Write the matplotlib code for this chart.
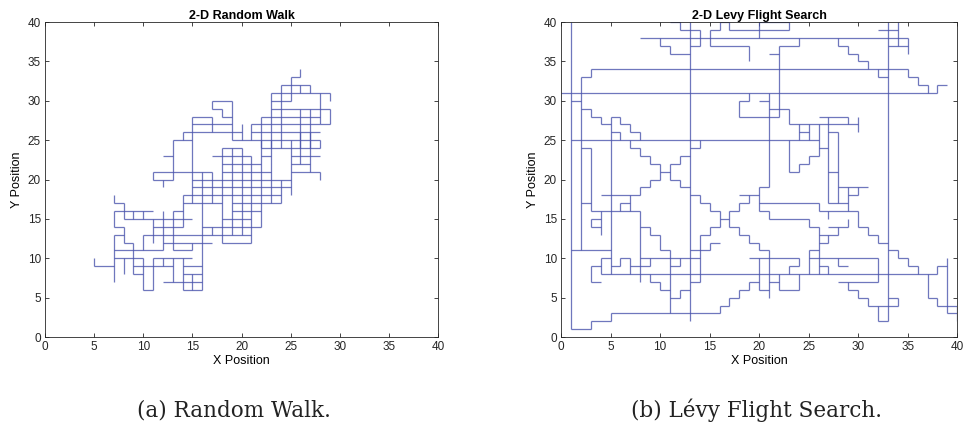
import matplotlib
matplotlib.use('Agg')
from matplotlib import pyplot as plt

plt.rcParams['font.family'] = ['Liberation Sans', 'DejaVu Sans']

# random walk, horizontal edges: (y, x_start, x_end)
rw_h = [
    (6, 10, 11), (6, 14, 16), (7, 12, 16), (8, 9, 10), (8, 14, 16),
    (9, 5, 7), (9, 9, 13), (9, 14, 16), (10, 7, 10), (10, 11, 15),
    (11, 7, 12), (11, 13, 15), (12, 8, 9), (12, 12, 17), (12, 18, 21),
    (13, 7, 8), (13, 10, 21), (14, 7, 8), (14, 11, 14), (14, 16, 22),
    (15, 8, 15), (15, 18, 21), (16, 7, 11), (16, 13, 14), (16, 19, 22),
    (17, 7, 8), (17, 14, 18), (17, 19, 24), (18, 14, 24), (19, 15, 25),
    (20, 11, 13), (20, 15, 25), (21, 11, 17), (21, 18, 23), (21, 25, 28),
    (22, 18, 22), (22, 25, 27), (23, 12, 13), (23, 17, 21), (23, 22, 23),
    (23, 25, 28), (24, 18, 20), (24, 22, 28), (25, 13, 15), (25, 19, 28),
    (26, 14, 20), (26, 21, 28), (27, 15, 19), (27, 21, 28), (27, 28, 29),
    (28, 15, 17), (28, 18, 19), (28, 22, 28), (29, 17, 18), (29, 23, 29),
    (30, 17, 19), (30, 23, 25), (31, 23, 29), (32, 24, 27), (33, 25, 26),
]
# random walk, vertical edges: (x, y_start, y_end)
rw_v = [
    (5, 9, 10), (7, 7, 13), (7, 14, 16), (7, 17, 18), (8, 8, 10),
    (8, 12, 14), (8, 15, 17), (9, 8, 12), (9, 15, 16), (10, 6, 10),
    (10, 11, 13), (10, 15, 16), (11, 6, 10), (11, 12, 15), (11, 20, 21),
    (12, 9, 10), (12, 11, 16), (12, 19, 20), (13, 7, 10), (13, 11, 16),
    (13, 20, 25), (14, 6, 10), (14, 14, 18), (14, 25, 26), (15, 6, 8),
    (15, 11, 12), (15, 17, 28), (16, 6, 21), (17, 13, 14), (17, 17, 21),
    (17, 26, 28), (17, 29, 30), (18, 12, 24), (18, 28, 29), (19, 13, 24),
    (19, 25, 30), (20, 13, 24), (20, 25, 27), (21, 12, 23), (21, 25, 27),
    (22, 14, 25), (22, 24, 28), (23, 17, 25), (23, 24, 31), (24, 17, 20),
    (24, 24, 32), (25, 18, 25), (25, 30, 33), (26, 22, 26), (26, 24, 29),
    (26, 31, 32), (26, 33, 34), (27, 21, 26), (27, 24, 29), (27, 31, 32),
    (28, 20, 21), (28, 24, 25), (28, 27, 31), (29, 27, 29), (29, 30, 31),
]

# levy flight, horizontal edges
lf_h = [
    (1, 1, 3), (2, 3, 5), (2, 32, 33), (3, 5, 16), (3, 39, 40),
    (4, 16, 17), (4, 31, 34), (4, 38, 40), (5, 17, 18), (5, 11, 12),
    (5, 30, 31), (5, 33, 34), (5, 37, 38), (6, 18, 19), (6, 10, 11),
    (6, 12, 13), (6, 22, 24), (6, 20, 21), (6, 29, 30), (7, 19, 20),
    (7, 3, 4), (7, 9, 10), (7, 13, 14), (7, 21, 22), (7, 28, 32),
    (8, 4, 38), (9, 3, 4), (9, 5, 6), (9, 7, 9), (9, 11, 12),
    (9, 23, 24), (9, 26, 27), (9, 28, 29), (9, 35, 36), (9, 38, 39),
    (10, 4, 5), (10, 6, 7), (10, 8, 14), (10, 19, 24), (10, 25, 32),
    (10, 34, 35), (11, 1, 5), (11, 10, 11), (11, 13, 15), (11, 20, 21),
    (11, 25, 26), (11, 33, 34), (12, 15, 16), (12, 19, 20), (12, 26, 27),
    (12, 32, 33), (13, 9, 10), (13, 14, 15), (13, 18, 19), (13, 26, 28),
    (13, 31, 32), (14, 3, 4), (14, 8, 9), (14, 15, 16), (14, 17, 18),
    (14, 25, 26), (14, 27, 29), (14, 30, 31), (15, 3, 4), (15, 16, 17),
    (15, 21, 25), (16, 3, 8), (16, 15, 16), (16, 17, 18), (16, 20, 21),
    (16, 26, 30), (17, 2, 3), (17, 6, 7), (17, 14, 15), (17, 18, 19),
    (17, 20, 26), (17, 27, 29), (18, 4, 8), (18, 13, 14), (18, 18, 20),
    (18, 29, 30), (19, 8, 9), (19, 12, 13), (19, 20, 21), (19, 28, 31),
    (20, 9, 10), (20, 11, 12), (21, 10, 11), (21, 23, 24), (21, 27, 28),
    (22, 9, 10), (22, 11, 12), (22, 24, 25), (23, 8, 9), (23, 12, 13),
    (23, 25, 26), (24, 2, 3), (24, 7, 8), (24, 13, 14), (24, 26, 27),
    (25, 1, 26), (26, 5, 6), (26, 7, 8), (26, 24, 25), (26, 27, 28),
    (27, 4, 5), (27, 6, 7), (27, 23, 30), (28, 3, 4), (28, 5, 6),
    (28, 18, 22), (28, 26, 29), (29, 2, 3), (29, 21, 23), (30, 1, 2),
    (30, 18, 19), (30, 20, 21), (31, 0, 38), (32, 36, 37), (32, 38, 39),
    (33, 2, 3), (33, 32, 33), (33, 35, 36), (34, 3, 35), (35, 30, 31),
    (36, 11, 13), (36, 21, 22), (36, 29, 30), (37, 10, 11), (37, 13, 14),
    (37, 15, 19), (37, 22, 24), (37, 28, 29), (37, 33, 35), (38, 8, 35),
    (39, 12, 14), (39, 15, 16), (39, 17, 23), (39, 32, 34), (40, 11, 12),
    (40, 16, 17), (40, 20, 23),
]
# levy flight, vertical edges
lf_v = [
    (1, 1, 40), (2, 11, 33), (3, 1, 2), (3, 7, 9), (3, 14, 15),
    (3, 16, 24), (3, 28, 29), (3, 33, 34), (4, 8, 10), (4, 13, 16),
    (4, 27, 28), (5, 2, 3), (5, 8, 28), (6, 9, 10), (6, 16, 17),
    (6, 25, 26), (6, 27, 28), (7, 8, 10), (7, 16, 18), (7, 24, 25),
    (7, 26, 27), (8, 7, 16), (8, 18, 19), (8, 23, 24), (8, 25, 26),
    (9, 7, 8), (9, 9, 10), (9, 13, 14), (9, 19, 20), (9, 22, 23),
    (10, 6, 7), (10, 11, 13), (10, 20, 22), (10, 37, 38), (11, 3, 11),
    (11, 20, 22), (11, 36, 37), (12, 5, 6), (12, 9, 10), (12, 19, 20),
    (12, 22, 23), (12, 39, 40), (13, 2, 40), (14, 7, 13), (14, 17, 18),
    (14, 24, 25), (14, 37, 39), (15, 11, 12), (15, 13, 14), (15, 16, 17),
    (15, 37, 39), (16, 3, 4), (16, 14, 16), (16, 39, 40), (17, 4, 5),
    (17, 14, 16), (17, 39, 40), (18, 5, 6), (18, 13, 14), (18, 16, 17),
    (18, 28, 30), (19, 6, 7), (19, 12, 13), (19, 17, 18), (19, 30, 31),
    (19, 35, 37), (20, 6, 10), (20, 11, 12), (20, 16, 19), (20, 38, 40),
    (21, 5, 11), (21, 15, 16), (21, 19, 31), (22, 6, 8), (22, 28, 37),
    (23, 8, 9), (23, 21, 25), (23, 27, 29), (23, 39, 40), (24, 6, 8),
    (24, 9, 10), (24, 21, 22), (24, 25, 27), (24, 37, 38), (25, 8, 11),
    (25, 14, 15), (25, 22, 23), (25, 25, 27), (26, 8, 14), (26, 16, 17),
    (26, 23, 27), (27, 8, 9), (27, 12, 13), (27, 15, 16), (27, 17, 28),
    (28, 9, 10), (28, 13, 14), (28, 17, 26), (28, 37, 38), (29, 6, 7),
    (29, 14, 15), (29, 16, 19), (29, 27, 28), (29, 36, 37), (30, 5, 6),
    (30, 14, 16), (30, 18, 19), (30, 26, 28), (30, 35, 36), (31, 4, 5),
    (31, 13, 14), (31, 34, 35), (32, 2, 4), (32, 7, 10), (32, 12, 13),
    (32, 33, 34), (33, 2, 40), (34, 4, 5), (34, 10, 11), (34, 37, 40),
    (35, 9, 10), (35, 33, 34), (35, 36, 38), (36, 8, 9), (36, 32, 33),
    (37, 5, 8), (37, 31, 32), (38, 4, 5), (38, 8, 9), (38, 31, 32),
    (39, 3, 10), (40, 2, 4),
]

ticks = [0, 5, 10, 15, 20, 25, 30, 35, 40]
line_color = '#4b55ad'


def draw_walk(ax, h_edges, v_edges, title):
    ax.hlines([e[0] for e in h_edges], [e[1] for e in h_edges], [e[2] for e in h_edges],
              color=line_color, lw=0.9, alpha=0.8)
    ax.vlines([e[0] for e in v_edges], [e[1] for e in v_edges], [e[2] for e in v_edges],
              color=line_color, lw=0.9, alpha=0.8)
    ax.set_xlim(0, 40)
    ax.set_ylim(0, 40)
    ax.set_xticks(ticks)
    ax.set_yticks(ticks)
    ax.tick_params(direction='in', top=True, right=True, labelsize=8.5,
                   length=3, width=0.6, colors='#262626', pad=3)
    for s in ax.spines.values():
        s.set_color('#262626')
        s.set_linewidth(0.6)
    ax.set_title(title, fontsize=9, fontweight='bold', pad=2)
    ax.set_xlabel('X Position', fontsize=9, labelpad=1)
    ax.set_ylabel('Y Position', fontsize=9, labelpad=3)


fig = plt.figure(figsize=(9.64, 4.25), dpi=100)
ax1 = fig.add_axes([0.0467, 0.207, 0.4077, 0.741])
ax2 = fig.add_axes([0.582, 0.207, 0.411, 0.741])

draw_walk(ax1, rw_h, rw_v, '2-D Random Walk')
draw_walk(ax2, lf_h, lf_v, '2-D Levy Flight Search')

fig.text(0.243, 0.019, '(a) Random Walk.', ha='center', va='baseline',
         fontsize=15.5, family=['DejaVu Serif'], color='#222222')
fig.text(0.785, 0.019, '(b) Lévy Flight Search.', ha='center', va='baseline',
         fontsize=15.5, family=['DejaVu Serif'], color='#222222')

fig.savefig('out.png', dpi=100)
